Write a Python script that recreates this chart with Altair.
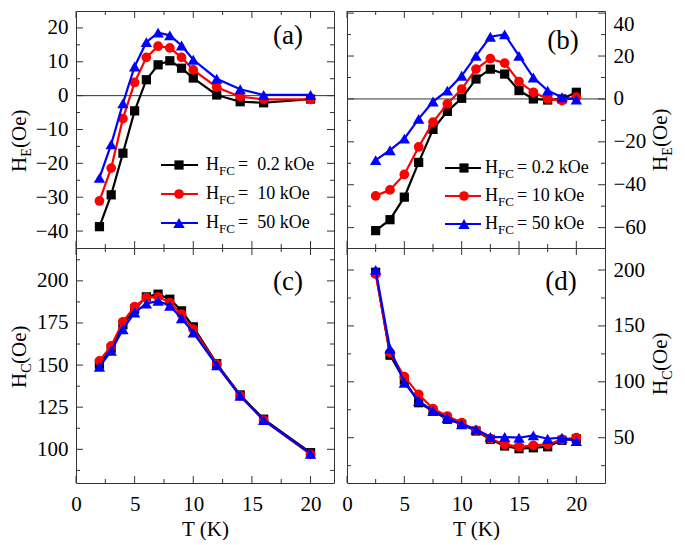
import altair as alt
import pandas as pd

FONT = "'Liberation Serif', 'Times New Roman', Times, 'DejaVu Serif', serif"
TICK_COLOR = "#333333"

# ---------------- data ----------------
series_names = ["0.2 kOe", "10 kOe", "50 kOe"]
series_colors = ["#000000", "#ff0000", "#0000ff"]
series_shapes = ["square", "circle", "triangle-up"]
panel_tags = ["(a)", "(b)", "(c)", "(d)"]

# panel (a) and (c): temperatures
T_left = [2, 3, 4, 5, 6, 7, 8, 9, 10, 12, 14, 16, 20]
HE_a_02 = [-38.7, -29.3, -17.0, -4.5, 4.7, 9.1, 10.3, 8.1, 5.2, 0.2, -1.8, -2.1, -1.0]
HE_a_10 = [-31.1, -21.4, -6.8, 3.9, 11.3, 14.6, 14.1, 11.3, 7.6, 2.5, -0.3, -1.1, -1.1]
HE_a_50 = [-24.3, -14.4, -2.3, 8.6, 15.8, 18.6, 17.8, 14.8, 10.6, 5.0, 1.9, 0.2, 0.2]

HC_c_02 = [150.5, 160.0, 173.9, 183.2, 190.5, 192.1, 189.1, 182.2, 172.7, 150.9, 132.3, 117.9, 98.0]
HC_c_10 = [152.5, 161.4, 175.7, 184.7, 190.1, 190.5, 187.1, 180.2, 171.3, 150.5, 131.7, 117.3, 97.0]
HC_c_50 = [148.9, 158.4, 171.3, 181.2, 186.5, 188.1, 185.2, 177.8, 169.3, 149.9, 131.7, 117.3, 97.4]

# panel (b) and (d): temperatures
T_right = [2.5, 3.75, 5, 6.25, 7.5, 8.75, 10, 11.25, 12.5, 13.75, 15, 16.25, 17.5, 18.75, 20]
HE_b_02 = [-61.4, -56.3, -45.8, -29.6, -14.2, -5.8, 0.3, 9.3, 13.9, 11.6, 3.9, 0.0, -0.5, 0.0, 3.1]
HE_b_10 = [-45.2, -42.4, -35.2, -22.4, -10.8, -2.3, 4.6, 13.9, 18.8, 16.7, 8.1, 3.1, 0.0, -0.8, 0.8]
HE_b_50 = [-28.5, -23.9, -18.5, -9.3, -1.2, 3.9, 10.8, 20.1, 29.0, 30.1, 20.1, 10.0, 3.9, 0.8, -0.3]

HC_d_02 = [198.0, 123.8, 101.6, 81.3, 73.9, 66.5, 62.0, 56.0, 48.6, 42.6, 40.2, 41.0, 41.9, 47.7, 49.1]
HC_d_10 = [196.3, 126.1, 104.6, 88.8, 76.0, 69.4, 63.4, 56.6, 49.1, 44.0, 41.9, 43.2, 44.0, 48.6, 50.0]
HC_d_50 = [200.1, 129.7, 99.2, 82.9, 73.9, 67.9, 62.0, 57.5, 50.6, 50.6, 50.0, 52.1, 49.1, 50.0, 47.0]

# tick values
x_major = [0, 5, 10, 15, 20]
x_minor = [2.5, 7.5, 12.5, 17.5]
ya_major = [-40, -30, -20, -10, 0, 10, 20]
ya_minor = [-35, -25, -15, -5, 5, 15]
yb_major = [-60, -40, -20, 0, 20, 40]
yb_minor = [-50, -30, -10, 10, 30]
yc_major = [100, 125, 150, 175, 200]
yc_minor = [87.5, 112.5, 137.5, 162.5, 187.5, 212.5]
yd_major = [50, 100, 150, 200]
yd_minor = [25, 75, 125, 175]
zero_line = [0]

W = 258
DUMMY = pd.DataFrame({"k": [0]})
SIZES = {"square": 85, "circle": 95, "triangle-up": 130}
LBL = 21


def txt(text, x, y, size, angle=0, align="left", baseline="alphabetic"):
    return alt.Chart(DUMMY).mark_text(
        text=text, fontSize=size, font=FONT, angle=angle, align=align,
        baseline=baseline, color="black"
    ).encode(x=alt.value(x), y=alt.value(y))


def make_panel(T, ys, xdom, ydom, ymaj, ymin, H, orient, bottom, tag, tag_pos,
               title_sub, title_rest, title_pos, zero=False, legend=None):
    xs = alt.Scale(domain=xdom, nice=False, zero=False)
    yscale = alt.Scale(domain=ydom, nice=False, zero=False)
    if bottom:
        xaxis = alt.Axis(values=x_major, ticks=False, domain=False, grid=False,
                         labelFlush=False, labelFont=FONT, labelFontSize=LBL, labelPadding=10,
                         labelColor="black", title="T (K)", titleFont=FONT, titleFontSize=21,
                         titleFontWeight="normal", titlePadding=4, titleColor="black")
    else:
        xaxis = None
    yaxis = alt.Axis(orient=orient, values=ymaj, ticks=False, domain=False, grid=False,
                     labelFont=FONT, labelFontSize=LBL, labelPadding=8, labelColor="black",
                     labelFlush=3, title=None)

    def X(f):
        return alt.X(f, scale=xs, axis=xaxis)

    def Y(f):
        return alt.Y(f, scale=yscale, axis=yaxis)

    layers = []
    if zero:
        layers.append(alt.Chart(pd.DataFrame({"z": zero_line})).mark_rule(
            color="#333333", strokeWidth=1).encode(y=Y("z:Q")))
    for vals, col, shp in zip(ys, series_colors, series_shapes):
        df = pd.DataFrame({"T": T, "v": vals})
        layers.append(alt.Chart(df).mark_line(color=col, strokeWidth=2.2).encode(
            x=X("T:Q"), y=Y("v:Q")))
        layers.append(alt.Chart(df).mark_point(
            shape=shp, filled=True, opacity=1, size=SIZES[shp], color=col).encode(
            x=X("T:Q"), y=Y("v:Q")))
    # inward ticks on all four sides
    for vals, length in ((ymaj, 7), (ymin, 4)):
        d = alt.Chart(pd.DataFrame({"v": vals})).mark_rule(color=TICK_COLOR, strokeWidth=1)
        layers.append(d.encode(y=Y("v:Q"), x=alt.value(0), x2=alt.value(length)))
        layers.append(d.encode(y=Y("v:Q"), x=alt.value(W), x2=alt.value(W - length)))
    for vals, length in ((x_major, 7), (x_minor, 4)):
        d = alt.Chart(pd.DataFrame({"T": vals})).mark_rule(color=TICK_COLOR, strokeWidth=1)
        layers.append(d.encode(x=X("T:Q"), y=alt.value(0), y2=alt.value(length)))
        layers.append(d.encode(x=X("T:Q"), y=alt.value(H), y2=alt.value(H - length)))
    # panel tag
    layers.append(txt(tag, tag_pos[0], tag_pos[1], 27, align="center", baseline="middle"))
    # rotated y title with subscript
    bx, y0 = title_pos
    wH = 0.722 * 21
    wS = 0.64 * 14
    layers.append(txt("H", bx, y0, 21, angle=270))
    layers.append(txt(title_sub, bx + 5, y0 - wH, 14, angle=270))
    layers.append(txt(title_rest, bx, y0 - wH - wS, 21, angle=270))
    # legend
    if legend is not None:
        lx0, lx1, mx, hx, rows, rest_texts = legend
        for i in range(3):
            ry = rows[i]
            col = series_colors[i]
            shp = series_shapes[i]
            layers.append(alt.Chart(DUMMY).mark_rule(color=col, strokeWidth=2.2).encode(
                x=alt.value(lx0), x2=alt.value(lx1), y=alt.value(ry)))
            layers.append(alt.Chart(DUMMY).mark_point(
                shape=shp, filled=True, opacity=1, size=SIZES[shp], color=col).encode(
                x=alt.value(mx), y=alt.value(ry)))
            layers.append(txt("H", hx, ry, 18, baseline="middle"))
            layers.append(txt("FC", hx + 13, ry + 6, 13, baseline="middle"))
            layers.append(txt(rest_texts[i], hx + 13 + 19, ry, 18, baseline="middle"))
    return alt.layer(*layers).properties(width=W, height=H)


rest_a = ["=\u00a0\u00a0" + s for s in series_names]
rest_b = ["=\u00a0" + s for s in series_names]

pa = make_panel(T_left, [HE_a_02, HE_a_10, HE_a_50], [0, 22], [-45, 25], ya_major, ya_minor,
                237, "left", False, panel_tags[0], (212, 25), "E", "(Oe)", (-50, 161),
                zero=True, legend=(85, 122, 103, 130, [154, 183, 212], rest_a))
pb = make_panel(T_right, [HE_b_02, HE_b_10, HE_b_50], [0, 22.5], [-69.5, 41], yb_major, yb_minor,
                237, "right", False, panel_tags[1], (216, 30), "E", "\u00a0(Oe)", (W + 62, 160),
                zero=True, legend=(98, 134, 117, 138, [157, 185, 213], rest_b))
pc = make_panel(T_left, [HC_c_02, HC_c_10, HC_c_50], [0, 22], [80, 219.5], yc_major, yc_minor,
                235, "left", True, panel_tags[2], (212, 34), "C", "(Oe)", (-50, 140))
pd_ = make_panel(T_right, [HC_d_02, HC_d_10, HC_d_50], [0, 22.5], [9.5, 219.7], yd_major, yd_minor,
                 235, "right", True, panel_tags[3], (214, 34), "C", "\u00a0(Oe)", (W + 62, 147))

chart = alt.concat(
    pa, pb, pc, pd_, columns=2, spacing={"row": 0, "column": 13}, bounds="flush"
).properties(
    padding={"left": 0, "top": 2, "right": 0, "bottom": 0}
).configure(font=FONT).configure_view(
    stroke=TICK_COLOR, strokeWidth=1
).configure_axis(labelFont=FONT, titleFont=FONT).configure_text(font=FONT)

chart.save("out.html", embed_options={"renderer": "svg", "actions": False})
